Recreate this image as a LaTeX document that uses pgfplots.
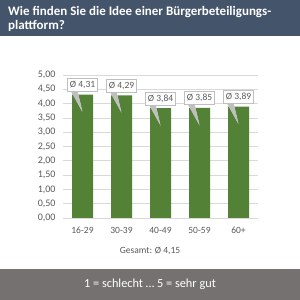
\documentclass[border=0pt]{standalone}
\usepackage{pgfplots}
\pgfplotsset{compat=1.18}
\usepackage{fontspec}
\setmainfont{Carlito}
\definecolor{titlebg}{HTML}{44546A}
\definecolor{footbg}{HTML}{767171}
\definecolor{bargreen}{HTML}{538135}
\definecolor{txt}{HTML}{595959}
\definecolor{gridc}{HTML}{D9D9D9}
\definecolor{callbd}{HTML}{BFBFBF}
\begin{document}
\begin{tikzpicture}[x=1pt,y=1pt]
\useasboundingbox (0,0) rectangle (300,300);
\fill[white] (0,0) rectangle (300,300);
\fill[titlebg] (0,264) rectangle (300,300);
\fill[footbg] (0,0) rectangle (300,30.5);
\node[anchor=base west, inner sep=0, text=white, font=\fontsize{13}{15}\selectfont\bfseries] at (8,284.3) {Wie finden Sie die Idee einer Bürgerbeteiligungs-};
\node[anchor=base west, inner sep=0, text=white, font=\fontsize{13}{15}\selectfont\bfseries] at (8,270) {plattform?};
\begin{axis}[
  at={(63pt,82pt)}, anchor=south west, scale only axis,
  width=195pt, height=143pt,
  xmin=-0.5, xmax=4.5, ymin=0, ymax=5,
  ytick={0,0.5,1,1.5,2,2.5,3,3.5,4,4.5,5},
  xtick=data, xticklabels={16-29,30-39,40-49,50-59,60+},
  ymajorgrids, grid style={gridc, line width=0.75pt},
  axis line style={draw=none}, major tick style={draw=none},
  /pgf/number format/assume math mode=true,
  yticklabel style={/pgf/number format/.cd, fixed, fixed zerofill, precision=2, use comma, /tikz/.cd, xshift=-4pt, font=\fontsize{10}{12}\selectfont},
  xticklabel style={yshift=-6pt},
  ticklabel style={font=\fontsize{9.5}{11}\selectfont, text=txt},
  clip=false,
]
\addplot[ybar, fill=bargreen, draw=none, bar width=21pt,
  nodes near coords={Ø \pgfmathprintnumber[fixed,fixed zerofill,precision=2,use comma]{\pgfplotspointmeta}},
  every node near coord/.append style={rectangle, fill=white, draw=callbd, line width=0.6pt, text=txt,
    font=\fontsize{9.5}{11}\selectfont, inner xsep=2.5pt, inner ysep=0pt, minimum height=13pt,
    anchor=south, yshift=3pt,
    append after command={\pgfextra{%
      \fill[white] ([xshift=-11pt,yshift=0.3pt]\tikzlastnode.south) -- ([xshift=-5pt,yshift=0.3pt]\tikzlastnode.south) -- ([xshift=-0.5pt,yshift=-19pt]\tikzlastnode.south) -- cycle;
      \draw[callbd, line width=0.5pt] ([xshift=-11pt]\tikzlastnode.south) -- ([xshift=-0.5pt,yshift=-19pt]\tikzlastnode.south) -- ([xshift=-5pt]\tikzlastnode.south);
    }}},
] coordinates {(0,4.31) (1,4.29) (2,3.84) (3,3.85) (4,3.89)};
\end{axis}
\node[anchor=base, inner sep=0, text=txt, font=\fontsize{9.5}{11}\selectfont] at (150,46) {Gesamt: Ø 4,15};
\node[anchor=base, inner sep=0, text=white, font=\fontsize{12.3}{14}\selectfont] at (150,12.5) {1 = schlecht … 5 = sehr gut};
\end{tikzpicture}
\end{document}
